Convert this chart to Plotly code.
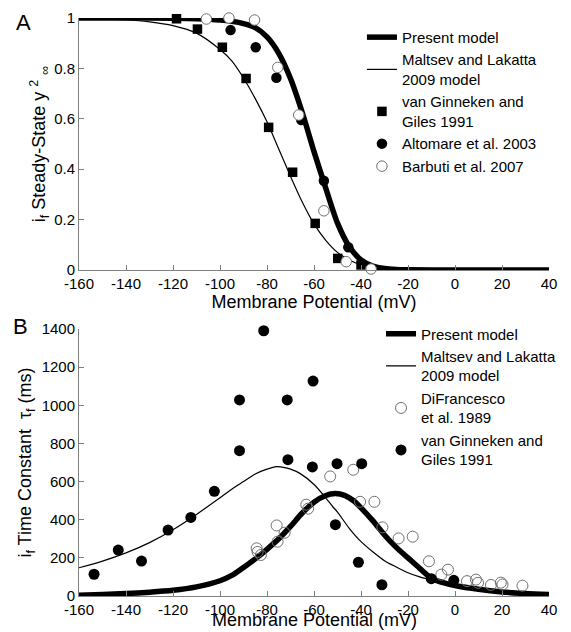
import plotly.graph_objects as go

# ---------------- Panel A data ----------------
va_present = [-160, -140, -120, -110, -100, -95, -90, -85, -80, -75, -70, -65, -60, -55, -50, -45, -40, -35, -30, -25, -20, 0, 20, 40]
ya_present = [1.0, 1.0, 0.999, 0.997, 0.992, 0.987, 0.978, 0.962, 0.925, 0.86, 0.76, 0.625, 0.47, 0.325, 0.186, 0.093, 0.04, 0.016, 0.006, 0.002, 0.001, 0, 0, 0]

va_maltsev = [-160, -150, -140, -130, -120, -110, -100, -95, -90, -85, -80, -75, -70, -65, -60, -55, -50, -45, -40, -35, -30, -20, -10, 0, 20, 40]
ya_maltsev = [0.998, 0.996, 0.993, 0.985, 0.97, 0.94, 0.875, 0.83, 0.762, 0.68, 0.588, 0.48, 0.372, 0.27, 0.183, 0.118, 0.07, 0.04, 0.021, 0.011, 0.006, 0.0015, 0.0004, 0, 0, 0]

va_vanginneken = [-118.5, -109.6, -99.0, -88.9, -79.3, -69.1, -59.5, -49.9, -40.0]
ya_vanginneken = [0.997, 0.956, 0.884, 0.76, 0.566, 0.388, 0.185, 0.046, 0.02]

va_altomare = [-95.5, -84.8, -76.0, -65.4, -55.8, -45.4]
ya_altomare = [0.952, 0.884, 0.763, 0.595, 0.354, 0.09]

va_barbuti = [-105.8, -96.2, -85.3, -75.4, -66.5, -55.8, -46.3, -35.7]
ya_barbuti = [0.996, 1.0, 0.992, 0.804, 0.615, 0.235, 0.033, 0.004]

# ---------------- Panel B data ----------------
vb_present = [-160, -150, -140, -130, -120, -110, -100, -95, -90, -85, -80, -75, -70, -65, -60, -55, -51, -47, -43, -40, -35, -30, -25, -20, -15, -10, -5, 0, 10, 20, 30, 40]
tb_present = [4, 8, 13, 20, 30, 48, 80, 108, 150, 195, 245, 300, 365, 435, 492, 527, 537, 528, 498, 462, 395, 320, 255, 200, 145, 93, 70, 55, 35, 21, 13, 8]

vb_maltsev = [-160, -150, -140, -130, -120, -110, -100, -95, -90, -85, -80, -76, -72, -70, -66, -60, -55, -52, -50, -45, -40, -35, -30, -25, -20, -15, -10, -5, 0, 5, 10, 20, 30, 40]
tb_maltsev = [148, 183, 226, 280, 348, 428, 515, 560, 600, 640, 665, 678, 672, 665, 643, 585, 515, 468, 440, 355, 285, 232, 185, 152, 122, 100, 84, 68, 56, 46, 38, 27, 19, 14]

vb_difrancesco = [-84.4, -84.0, -82.6, -75.9, -75.5, -72.5, -63.3, -62.5, -53.1, -43.3, -40.4, -34.3, -30.9, -24.0, -18.0, -11.1, -5.8, -3.0, 5.1, 8.9, 9.8, 15.3, 19.5, 20.2, 28.7]
tb_difrancesco = [250, 231, 215, 370, 285, 332, 479, 458, 627, 662, 494, 494, 360, 302, 311, 182, 112, 138, 78, 86, 69, 58, 70, 60, 54]

vb_vanginneken = [-153.6, -143.3, -133.4, -122.1, -112.4, -102.4, -91.7, -91.7, -81.4, -71.4, -71.1, -60.4, -60.7, -50.2, -50.9, -39.7, -41.1, -31.1, -10.1, -0.5]
tb_vanginneken = [114, 241, 183, 346, 412, 549, 1028, 762, 1391, 1028, 715, 1127, 677, 694, 374, 694, 177, 59, 91, 82]

x_ticks = [-160, -140, -120, -100, -80, -60, -40, -20, 0, 20, 40]
x_ticktext = ["-160", "-140", "-120", "-100", "-80", "-60", "-40", "-20", "0", "20", "40"]
ya_ticks = [0, 0.2, 0.4, 0.6, 0.8, 1]
ya_ticktext = ["0", "0.2", "0.4", "0.6", "0.8", "1"]
yb_ticks = [0, 200, 400, 600, 800, 1000, 1200, 1400]
yb_ticktext = ["0", "200", "400", "600", "800", "1000", "1200", "1400"]

FONT = "Liberation Sans, Arial, sans-serif"
GRAY = "#808080"
OPEN = "#707070"

fig = go.Figure()

# Panel A
fig.add_trace(go.Scatter(x=va_present, y=ya_present, mode="lines", name="Present model",
                         line=dict(color="black", width=5.5, shape="spline", smoothing=0.8),
                         xaxis="x", yaxis="y", legend="legend", cliponaxis=False))
fig.add_trace(go.Scatter(x=va_maltsev, y=ya_maltsev, mode="lines", name="Maltsev and Lakatta<br>2009 model",
                         line=dict(color="black", width=1.2, shape="spline", smoothing=0.8),
                         xaxis="x", yaxis="y", legend="legend", cliponaxis=False))
fig.add_trace(go.Scatter(x=va_vanginneken, y=ya_vanginneken, mode="markers", name="van Ginneken and<br>Giles 1991",
                         marker=dict(symbol="square", size=9.5, color="black"),
                         xaxis="x", yaxis="y", legend="legend", cliponaxis=False))
fig.add_trace(go.Scatter(x=va_altomare, y=ya_altomare, mode="markers", name="Altomare et al. 2003",
                         marker=dict(symbol="circle", size=10.5, color="black"),
                         xaxis="x", yaxis="y", legend="legend", cliponaxis=False))
fig.add_trace(go.Scatter(x=va_barbuti, y=ya_barbuti, mode="markers", name="Barbuti et al. 2007",
                         marker=dict(symbol="circle", size=10.5, color="white", line=dict(color=OPEN, width=1)),
                         xaxis="x", yaxis="y", legend="legend", cliponaxis=False))

# Panel B
fig.add_trace(go.Scatter(x=vb_present, y=tb_present, mode="lines", name="Present model",
                         line=dict(color="black", width=5.5, shape="spline", smoothing=0.8),
                         xaxis="x2", yaxis="y2", legend="legend2"))
fig.add_trace(go.Scatter(x=vb_maltsev, y=tb_maltsev, mode="lines", name="Maltsev and Lakatta<br>2009 model",
                         line=dict(color="black", width=1.2, shape="spline", smoothing=0.8),
                         xaxis="x2", yaxis="y2", legend="legend2"))
fig.add_trace(go.Scatter(x=vb_difrancesco, y=tb_difrancesco, mode="markers", name="DiFrancesco<br>et al. 1989",
                         marker=dict(symbol="circle-open", size=11, color=OPEN, line=dict(width=1)),
                         xaxis="x2", yaxis="y2", legend="legend2", cliponaxis=False))
fig.add_trace(go.Scatter(x=vb_vanginneken, y=tb_vanginneken, mode="markers", name="van Ginneken and<br>Giles 1991",
                         marker=dict(symbol="circle", size=11, color="black"),
                         xaxis="x2", yaxis="y2", legend="legend2", cliponaxis=False))

axis_common = dict(showline=True, linecolor=GRAY, linewidth=1, ticks="inside", ticklen=5,
                   tickcolor=GRAY, showgrid=False, zeroline=False,
                   tickfont=dict(family=FONT, size=15, color="black"))

fig.update_layout(
    width=571, height=632,
    margin=dict(l=79, r=22, t=18, b=36, autoexpand=False),
    paper_bgcolor="white", plot_bgcolor="white",
    font=dict(family=FONT, size=15, color="black"),
    xaxis=dict(domain=[0, 1], range=[-160, 40], tickvals=x_ticks, ticktext=x_ticktext, anchor="y",
               title=dict(text="Membrane Potential (mV)", font=dict(family=FONT, size=18), standoff=0),
               **axis_common),
    yaxis=dict(domain=[0.564, 1], range=[0, 1], tickvals=ya_ticks, ticktext=ya_ticktext, anchor="x",
               title=dict(text="i<sub>f</sub> Steady-State y <sup>2</sup> <sub>∞</sub>", font=dict(family=FONT, size=18), standoff=3),
               **axis_common),
    xaxis2=dict(domain=[0, 1], range=[-160, 40], tickvals=x_ticks, ticktext=x_ticktext, anchor="y2",
                **axis_common),
    yaxis2=dict(domain=[0, 0.4619], range=[0, 1400], tickvals=yb_ticks, ticktext=yb_ticktext, anchor="x2",
                title=dict(text="i<sub>f</sub> Time Constant \u00a0τ<sub>f</sub> (ms)", font=dict(family=FONT, size=18), standoff=5),
                **axis_common),
    legend=dict(x=0.602, y=0.995, xanchor="left", yanchor="top", bgcolor="rgba(0,0,0,0)",
                font=dict(family=FONT, size=15), itemwidth=30, tracegroupgap=0),
    legend2=dict(x=0.6426, y=0.482, xanchor="left", yanchor="top", bgcolor="rgba(0,0,0,0)",
                 font=dict(family=FONT, size=15), itemwidth=30, tracegroupgap=0),
    showlegend=True,
    annotations=[
        dict(text="A", x=-0.119, y=0.993, xref="paper", yref="paper", showarrow=False,
             xanchor="center", yanchor="middle", font=dict(family=FONT, size=22)),
        dict(text="B", x=-0.1255, y=0.4654, xref="paper", yref="paper", showarrow=False,
             xanchor="center", yanchor="middle", font=dict(family=FONT, size=22)),
        dict(text="Membrane Potential (mV)", x=0.5, y=-0.0623, xref="paper", yref="paper",
             showarrow=False, xanchor="center", yanchor="bottom", font=dict(family=FONT, size=18)),
    ],
)

fig.write_html("out.html")
